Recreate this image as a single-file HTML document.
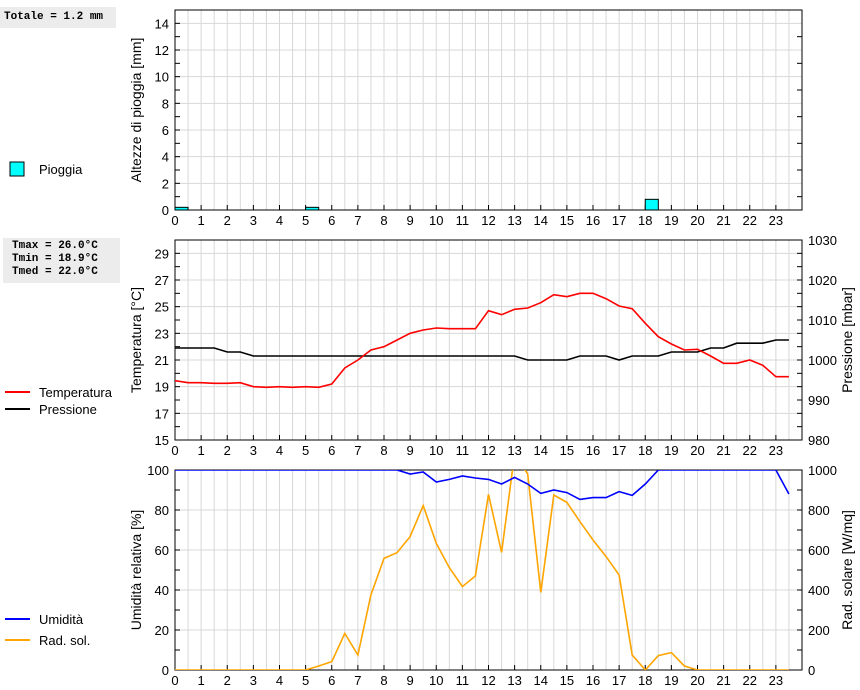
<!DOCTYPE html>
<html><head><meta charset="utf-8"><style>
body{margin:0;background:#fff;width:860px;height:690px;overflow:hidden;font-family:"Liberation Sans",sans-serif}
.box{position:absolute;background:#ececec;font-family:"Liberation Mono",monospace;font-weight:bold;font-size:11px;line-height:13px;padding:2px 4px}
</style></head><body>
<div class="box" style="left:0;top:7px;width:108px;height:17px;line-height:17px">Totale = 1.2 mm</div>
<div class="box" style="left:3px;top:238px;width:104px;height:41px;padding-left:9px">Tmax = 26.0°C<br>Tmin = 18.9°C<br>Tmed = 22.0°C</div>
<svg id="chart" width="860" height="690" style="position:absolute;left:0;top:0" font-family="Liberation Sans, sans-serif" font-size="13"></svg>
<script>
const hours=[...Array(48).keys()].map(k=>k/2);
const rainHours=[0,5,18];
const rainValues=[0.2,0.2,0.8];
const tempValues=[19.45,19.3,19.3,19.25,19.25,19.3,19.0,18.95,19.0,18.95,19.0,18.95,19.2,20.4,21.0,21.75,22.0,22.5,23.0,23.25,23.4,23.35,23.35,23.35,24.7,24.4,24.8,24.9,25.3,25.9,25.75,26.0,26.0,25.6,25.05,24.85,23.75,22.75,22.2,21.75,21.8,21.3,20.75,20.75,21.0,20.6,19.75,19.75];
const pressValues=[1003,1003,1003,1003,1002,1002,1001,1001,1001,1001,1001,1001,1001,1001,1001,1001,1001,1001,1001,1001,1001,1001,1001,1001,1001,1001,1001,1000,1000,1000,1000,1001,1001,1001,1000,1001,1001,1001,1002,1002,1002,1003,1003,1004.2,1004.2,1004.2,1005,1005];
const humValues=[100,100,100,100,100,100,100,100,100,100,100,100,100,100,100,100,100,100,98,99,94,95.3,97,96,95.3,93,96.3,93,88.3,90,88.7,85.3,86.2,86.2,89.2,87.3,93,100,100,100,100,100,100,100,100,100,100,88];
const radValues=[0,0,0,0,0,0,0,0,0,0,0,20,42,183,75,375,558,587,667,822,633,512,417,470,878,588,1080,980,388,875,838,742,650,567,475,75,0,72,87,20,0,0,0,0,0,0,0,0];
const xTicks=[...Array(24).keys()];

const svg=document.getElementById('chart');const NS='http://www.w3.org/2000/svg';
function el(t,a,p){const e=document.createElementNS(NS,t);for(const k in a)e.setAttribute(k,a[k]);(p||svg).appendChild(e);return e;}
const X0=175,X1=802;
const x=h=>X0+h*(X1-X0)/24;
function panel(name,top,lmin,lmax,lstep,minorStep,llab,rmin,rmax,rstep,rlab){
 const bot=top+200;const yl=v=>bot-(v-lmin)/(lmax-lmin)*200;
 const g=el('g',{});
 for(let k=1;k<48;k++){const gl=el('line',{x1:x(k/2),x2:x(k/2),y1:top,y2:bot,stroke:'#d8d8d8'},g);}
 for(let v=lmin;v<=lmax+1e-9;v+=lstep){const y=yl(v);if(y>top+1&&y<bot-1){const gl=el('line',{x1:X0,x2:X1,y1:y,y2:y,stroke:'#d8d8d8'},g);}
  const t=el('line',{x1:X0,x2:X0+5,y1:y,y2:y,stroke:'#000'},g);
  if(rlab){const t2=el('line',{x1:X1-5,x2:X1,y1:y,y2:y,stroke:'#000'},g);}
  const tx=el('text',{x:X0-6,y:y+5,'text-anchor':'end'},g);tx.textContent=String(v);}
 for(let v=lmin+minorStep;v<lmax;v+=lstep){const y=yl(v);
  const t=el('line',{x1:X0,x2:X0+5,y1:y,y2:y,stroke:'#000'},g);
  const t2=el('line',{x1:X1-5,x2:X1,y1:y,y2:y,stroke:'#000'},g);}
 xTicks.forEach(h=>{if(h>0){const t=el('line',{x1:x(h),x2:x(h),y1:bot-5,y2:bot,stroke:'#000'},g);}
  const tx=el('text',{x:x(h),y:bot+15,'text-anchor':'middle'},g);tx.textContent=h;});
 const fr=el('rect',{x:X0,y:top,width:X1-X0,height:200,fill:'none',stroke:'#000'},g);
 const lt=el('text',{transform:`translate(141,${top+100}) rotate(-90)`,'text-anchor':'middle','font-size':'14'},g);lt.textContent=llab;
 let yr=null;
 if(rlab){yr=v=>bot-(v-rmin)/(rmax-rmin)*200;
  for(let v=rmin;v<=rmax;v+=rstep){const tx=el('text',{x:X1+6,y:yr(v)+5},g);tx.textContent=v;}
  const rt=el('text',{transform:`translate(852,${top+100}) rotate(-90)`,'text-anchor':'middle','font-size':'14'},g);rt.textContent=rlab;}
 const cp=el('clipPath',{id:'clip-'+name});el('rect',{x:X0,y:top,width:X1-X0,height:200},cp);
 return {yl,yr,g};
}
function line(p,vals,yf,color,name){const pts=hours.map((h,i)=>x(h).toFixed(1)+','+yf(vals[i]).toFixed(1)).join(' ');
 const l=el('polyline',{points:pts,fill:'none',stroke:color,'stroke-width':'1.6','clip-path':'url(#clip-'+p+')'});}

const p1=panel('rain',10,0,15,2,1,'Altezze di pioggia [mm]');
rainHours.forEach((h,i)=>{const y=p1.yl(rainValues[i]);const r=el('rect',{x:x(h),y:y,width:x(0.5)-x(0),height:210-y,fill:'#00ffff',stroke:'#000'});});
const p2=panel('temp',240,15,30,2,1,'Temperatura [°C]',980,1030,10,'Pressione [mbar]');
line('temp',pressValues,p2.yr,'#000','pressure-line');
line('temp',tempValues,p2.yl,'#ff0000','temperature-line');
const p3=panel('hum',470,0,100,20,10,'Umidità relativa [%]',0,1000,200,'Rad. solare [W/mq]');
line('hum',radValues,p3.yr,'#ffa500','radiation-line');
line('hum',humValues,p3.yl,'#0000ff','humidity-line');

function legend(y,kind,color,label,name){const g=el('g',{});
 if(kind==='box')el('rect',{x:10,y:y-7,width:14,height:14,fill:'#00ffff',stroke:'#000'},g);
 else el('line',{x1:5,x2:30,y1:y,y2:y,stroke:color,'stroke-width':2},g);
 const t=el('text',{x:39,y:y+5},g);t.textContent=label;}
legend(169,'box','#00ffff','Pioggia','legend-rain');
legend(392,'line','#ff0000','Temperatura','legend-temperature');
legend(409,'line','#000','Pressione','legend-pressure');
legend(619,'line','#0000ff','Umidità','legend-humidity');
legend(640,'line','#ffa500','Rad. sol.','legend-radiation');
</script>
</body></html>
